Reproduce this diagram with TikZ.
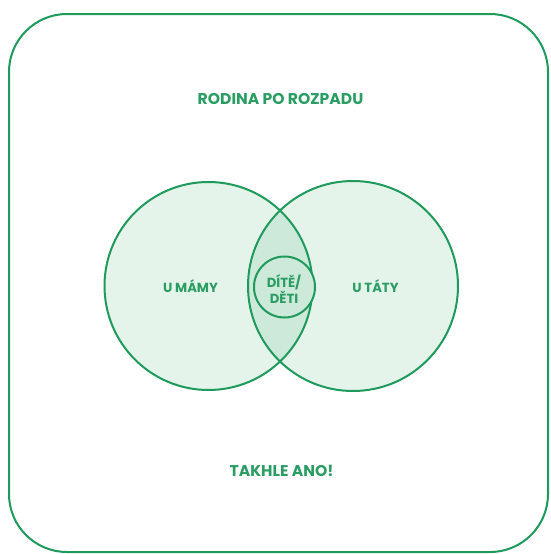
\documentclass[tikz,border=0pt]{standalone}
\usepackage{fontspec}
\setmainfont{Poppins}[UprightFont=* SemiBold, BoldFont=* Bold]
\definecolor{gline}{HTML}{1E9A5C}
\definecolor{gtext}{HTML}{2A9D63}
\definecolor{glight}{HTML}{E4F4EA}
\definecolor{gmid}{HTML}{CDE9DA}
\begin{document}
\begin{tikzpicture}[x=1pt,y=-1pt,
  outline/.style={draw=gline,line width=2pt},
  lbl/.style={text=gtext,font=\bfseries\fontsize{13.2}{16}\selectfont,align=center,inner sep=0pt},
  title/.style={text=gtext,font=\bfseries\fontsize{15.6}{18}\selectfont,inner sep=0pt}]
\useasboundingbox (0,0) rectangle (550,554);
\draw[outline,rounded corners=58pt] (9,14) rectangle (548,552);
% circles
\coordinate (cl) at (208.5,286);
\coordinate (cr) at (353,286);
\fill[glight] (cl) circle (104);
\fill[glight] (cr) circle (105);
\begin{scope}
  \clip (cl) circle (104);
  \fill[gmid] (cr) circle (105);
\end{scope}
\draw[outline] (cl) circle (104);
\draw[outline] (cr) circle (105);
\draw[outline,fill=gmid] (284.5,287) circle (30.5);
\node[title] (t) at (280.5,99) {RODINA PO ROZPADU};
\node[title] (b) at (281.5,471) {TAKHLE ANO!};
\node[lbl] (m) at (190.5,286) {U MÁMY};
\node[lbl] (o) at (375.5,286) {U TÁTY};
\node[lbl] (d) at (284,289) {DÍTĚ/\\DĚTI};
\end{tikzpicture}
\end{document}
